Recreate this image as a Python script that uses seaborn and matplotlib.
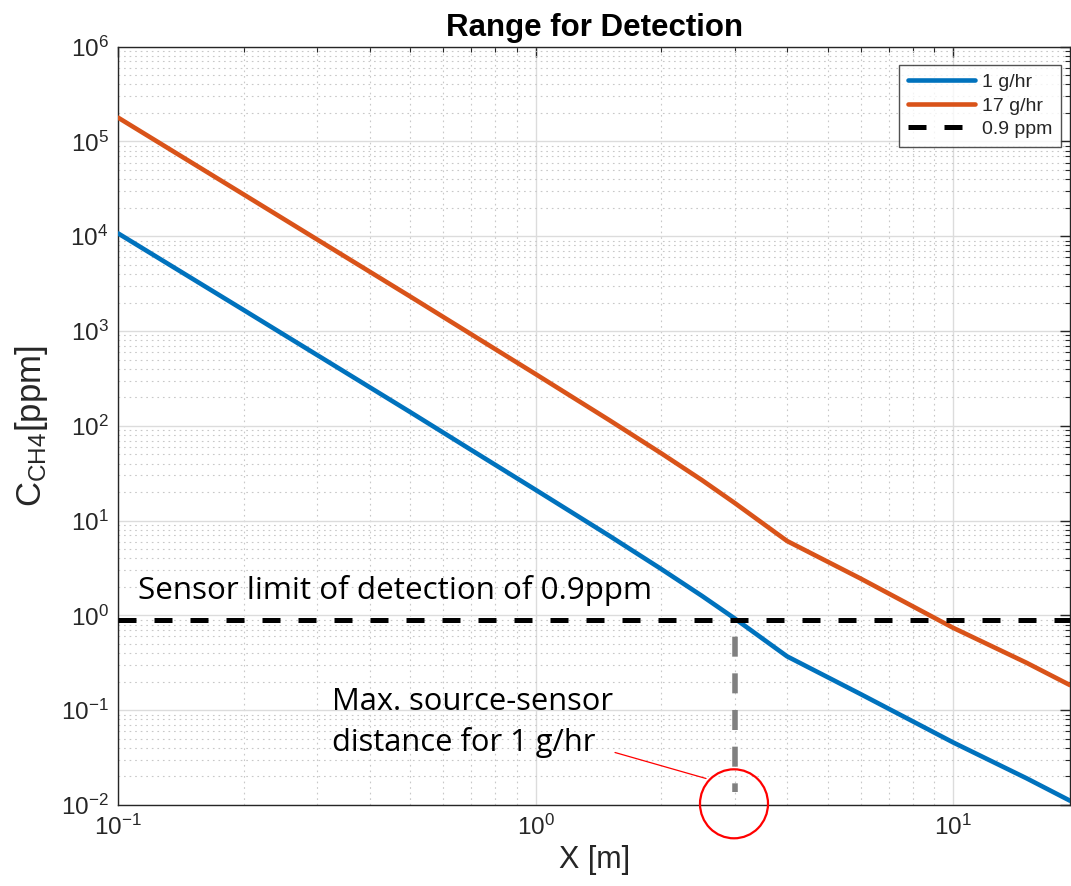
import numpy as np
import pandas as pd
import matplotlib
matplotlib.use("Agg")
import matplotlib.pyplot as plt
import seaborn as sns
from matplotlib.patches import Ellipse
from matplotlib.lines import Line2D
from matplotlib.ticker import LogLocator, NullFormatter

# ---------------- data ----------------
distance_m = [0.1, 0.2, 0.3, 0.5, 0.7, 1.0, 1.5, 2.0, 2.5, 3.0, 4.0, 6.0, 10.0, 15.0, 19.05]
conc_1ghr = [1.07e4, 1.66e3, 556, 140, 55.8, 21.1, 6.93, 3.08, 1.61, 0.925, 0.37, 0.148, 0.0457, 0.0191, 0.0111]
conc_17ghr = [1.78e5, 2.75e4, 9.2e3, 2.32e3, 927, 351, 115, 51.2, 26.8, 15.3, 6.1, 2.45, 0.74, 0.316, 0.184]
series_names = ["1 g/hr", "17 g/hr"]
threshold_ppm = 0.9
threshold_label = "0.9 ppm"
max_distance_1ghr = 3.0

title = "Range for Detection"
xlabel = "X [m]"
ylabel = r"C$_{\mathregular{CH4}}$[ppm]"
annot_limit = "Sensor limit of detection of 0.9ppm"
annot_dist_1 = "Max. source-sensor"
annot_dist_2 = "distance for 1 g/hr"

# ---------------- style ----------------
sns.set_theme(style="white")
plt.rcParams["font.family"] = ["Liberation Sans", "DejaVu Sans"]
plt.rcParams["mathtext.fontset"] = "custom"
plt.rcParams["mathtext.rm"] = "Liberation Sans"
plt.rcParams["mathtext.it"] = "Liberation Sans"
plt.rcParams["axes.unicode_minus"] = False

W, H = 1071, 886
fig = plt.figure(figsize=(W / 100, H / 100), dpi=100)
ax_l, ax_r, ax_t, ax_b = 118.3, 1070.0, 46.7, 805.0
ax = fig.add_axes([ax_l / W, 1 - ax_b / H, (ax_r - ax_l) / W, (ax_b - ax_t) / H])

df = pd.DataFrame({
    "x": distance_m * 2,
    "y": conc_1ghr + conc_17ghr,
    "series": [series_names[0]] * len(distance_m) + [series_names[1]] * len(distance_m),
})
palette = {series_names[0]: "#0072BD", series_names[1]: "#D95319"}
sns.lineplot(data=df, x="x", y="y", hue="series", palette=palette, lw=3.3, ax=ax,
             legend=False, sort=True, estimator=None, zorder=4)

ax.set_xscale("log")
ax.set_yscale("log")
ax.set_xlim(0.1, 19.05)
ax.set_ylim(1e-2, 1e6)

# threshold line
ax.axhline(threshold_ppm, color="black", lw=3.6, ls=(0, (3.6, 3.6)), zorder=5)
# vertical gray dashed line
ax.plot([max_distance_1ghr, max_distance_1ghr], [threshold_ppm, 0.0136], color="#808080",
        lw=4.0, ls=(3.6, (3.6, 3.0)), zorder=3, solid_capstyle="butt")

# grid
ax.grid(True, which="major", color="#dcdcdc", lw=1.0, ls="-", zorder=0)
ax.grid(True, which="minor", color="#c8c8c8", lw=0.8, ls=(0, (1.5, 3.5)), zorder=0)
ax.xaxis.set_minor_locator(LogLocator(base=10, subs=np.arange(2, 10), numticks=20))
ax.yaxis.set_minor_locator(LogLocator(base=10, subs=np.arange(2, 10), numticks=20))
ax.xaxis.set_minor_formatter(NullFormatter())
ax.yaxis.set_minor_formatter(NullFormatter())
ax.set_yticks([10.0 ** k for k in range(-2, 7)])
ax.set_xticks([0.1, 1, 10])

ax.tick_params(which="both", direction="in", top=True, right=True, colors="#262626",
               labelcolor="#262626")
ax.tick_params(which="major", length=7, width=1, labelsize=17.5, pad=7)
ax.tick_params(which="minor", length=3.5, width=0.8)
for s in ax.spines.values():
    s.set_color("#262626")
    s.set_linewidth(1.0)
    s.set_visible(True)

ax.set_title(title, fontsize=22.5, fontweight="bold", pad=8, color="black")
ax.set_xlabel(xlabel, fontsize=22, color="#262626", labelpad=4)
ax.set_ylabel(ylabel, fontsize=25, color="#262626", labelpad=8)

# legend
handles = [Line2D([], [], color="#0072BD", lw=3.3),
           Line2D([], [], color="#D95319", lw=3.3),
           Line2D([], [], color="black", lw=3.6, ls=(0, (3.6, 3.6)))]
leg = ax.legend(handles, series_names + [threshold_label], loc="upper right",
                bbox_to_anchor=(0.9905, 0.976), fontsize=14, frameon=True, fancybox=False,
                edgecolor="#262626", handlelength=3.45, handletextpad=0.35, borderpad=0.45,
                labelspacing=0.3, borderaxespad=0.0)
leg.get_frame().set_linewidth(1.0)

# annotations (overlay)
ann_font = ["Open Sans", "DejaVu Sans"]
fig.text(138 / W, 1 - 599.5 / H, annot_limit, fontsize=22.6, family=ann_font,
         color="black", ha="left", va="baseline")
fig.text(331.5 / W, 1 - 710.5 / H, annot_dist_1, fontsize=22.2, family=ann_font,
         color="black", ha="left", va="baseline")
fig.text(331.5 / W, 1 - 750.5 / H, annot_dist_2, fontsize=22.2, family=ann_font,
         color="black", ha="left", va="baseline")
circ = Ellipse((734 / W, 1 - 803.8 / H), 68 / W, 69 / H, transform=fig.transFigure,
               fill=False, edgecolor="red", lw=1.6, zorder=10)
fig.add_artist(circ)
fig.add_artist(Line2D([615 / W, 706 / W], [1 - 752.5 / H, 1 - 778.5 / H],
                      transform=fig.transFigure, color="red", lw=0.9))

fig.savefig("out.png", dpi=100)
